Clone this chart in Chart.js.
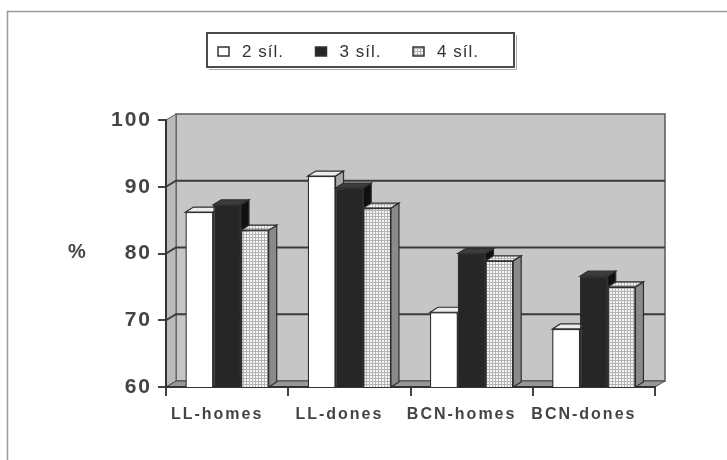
<!DOCTYPE html>
<html>
<head>
<meta charset="utf-8">
<script src="https://cdn.jsdelivr.net/npm/chart.js@4.4.1/dist/chart.umd.min.js"></script>
<style>
  html, body { margin: 0; padding: 0; background: #fff; }
  #chart { display: block; }
</style>
</head>
<body>
<canvas id="chart" width="727" height="460"></canvas>
<script>
// data
var categories = ['LL-homes', 'LL-dones', 'BCN-homes', 'BCN-dones'];
var seriesLabels = ['2 síl.', '3 síl.', '4 síl.'];
var sil2 = [86.2, 91.6, 71.2, 68.7];
var sil3 = [87.3, 89.8, 80.0, 76.6];
var sil4 = [83.5, 86.8, 78.9, 75.0];
var yMin = 60, yMax = 100, yStep = 10;
var yTitle = '%';

var FONT = "'Liberation Sans', Arial, sans-serif";
var canvas = document.getElementById('chart');
var ctx = canvas.getContext('2d');

// dotted fill for the 4 síl. series
function dotPattern() {
    var c = document.createElement('canvas');
    c.width = 3; c.height = 3;
    var g = c.getContext('2d');
    g.fillStyle = '#b4b4b4';
    g.fillRect(0, 0, 3, 3);
    g.fillStyle = '#f6f6f6';
    g.fillRect(1, 1, 2, 2);
    return ctx.createPattern(c, 'repeat');
}
var dots = dotPattern();

var fronts = ['#ffffff', '#262626', dots];
var sides  = ['#a8a8a8', '#101010', '#8a8a8a'];
var tops   = ['#ececec', '#3c3c3c', dots];

// wall depth and bar depth
var DX = 10, DY = -6;
var BX = 8, BY = -5;

function poly(c, pts, fill, stroke, lw) {
    c.beginPath();
    c.moveTo(pts[0][0], pts[0][1]);
    for (var i = 1; i < pts.length; i++) c.lineTo(pts[i][0], pts[i][1]);
    c.closePath();
    if (fill) { c.fillStyle = fill; c.fill(); }
    if (stroke) { c.strokeStyle = stroke; c.lineWidth = lw || 1; c.stroke(); }
}

var threeD = {
    id: 'threeD',
    beforeDraw: function (chart) {
        var c = chart.ctx, a = chart.chartArea, y = chart.scales.y;
        var L = a.left, R = a.right, T = a.top, B = a.bottom;
        c.save();
        // outer frame of the figure
        c.strokeStyle = '#9a9a9a';
        c.lineWidth = 1.5;
        c.beginPath();
        c.moveTo(7.5, 460); c.lineTo(7.5, 11.5); c.lineTo(727, 11.5);
        c.stroke();
        // back wall, side wall, floor
        poly(c, [[L + DX, T + DY], [R + DX, T + DY], [R + DX, B + DY], [L + DX, B + DY]], '#c6c6c6', '#5a5a5a', 1.5);
        poly(c, [[L, T], [L + DX, T + DY], [L + DX, B + DY], [L, B]], '#bababa', '#5a5a5a', 1);
        poly(c, [[L, B], [L + DX, B + DY], [R + DX, B + DY], [R, B]], '#979797', '#4a4a4a', 1);
        // gridlines on the walls
        c.strokeStyle = '#3a3a3a';
        c.lineWidth = 2;
        for (var v = yMin + yStep; v < yMax; v += yStep) {
            var py = y.getPixelForValue(v);
            c.beginPath();
            c.moveTo(L, py); c.lineTo(L + DX, py + DY); c.lineTo(R + DX, py + DY);
            c.stroke();
        }
        c.restore();
        c.letterSpacing = '2px';
    },
    beforeDatasetsDraw: function (chart) {
        chart.ctx.letterSpacing = '0px';
    },
    afterDatasetsDraw: function (chart) {
        var c = chart.ctx, a = chart.chartArea;
        c.save();
        // keep the bars above the floor line
        c.beginPath();
        c.rect(a.left, a.top - 20, a.right - a.left + 20, a.bottom - a.top + 20);
        c.clip();
        chart.data.datasets.forEach(function (ds, i) {
            var meta = chart.getDatasetMeta(i);
            meta.data.forEach(function (el) {
                var p = el.getProps(['x', 'y', 'base', 'width'], true);
                var l = p.x - p.width / 2, r = p.x + p.width / 2;
                var b = Math.min(p.base, a.bottom);
                poly(c, [[r, p.y], [r + BX, p.y + BY], [r + BX, b + BY], [r, b]], sides[i], '#2e2e2e', 1.2);
                poly(c, [[l, p.y], [l + BX, p.y + BY], [r + BX, p.y + BY], [r, p.y]], tops[i], '#2e2e2e', 1.2);
                el.draw(c);
            });
        });
        c.restore();
    },
    afterDraw: function (chart) {
        var c = chart.ctx;
        c.save();
        // y title
        c.fillStyle = '#444';
        c.font = 'bold 20px ' + FONT;
        c.textAlign = 'center';
        c.textBaseline = 'middle';
        c.fillText(yTitle, 77, 252);
        // legend box
        c.strokeStyle = '#4a4a4a';
        c.lineWidth = 2;
        c.strokeRect(207, 33, 307, 34);
        c.strokeStyle = '#aaa';
        c.lineWidth = 1;
        c.beginPath();
        c.moveTo(209, 69.5); c.lineTo(516.5, 69.5); c.lineTo(516.5, 35);
        c.stroke();
        c.font = '17px ' + FONT;
        c.letterSpacing = '1px';
        c.textAlign = 'left';
        c.textBaseline = 'alphabetic';
        chart.data.datasets.forEach(function (ds, i) {
            var bx = 218 + i * 97.5;
            c.fillStyle = fronts[i];
            c.fillRect(bx, 47, 11, 9);
            c.strokeStyle = '#333';
            c.lineWidth = 1.5;
            c.strokeRect(bx, 47, 11, 9);
            c.fillStyle = '#333';
            c.fillText(ds.label, bx + 24, 57);
        });
        c.restore();
    }
};

var datasets = [sil2, sil3, sil4].map(function (vals, i) {
    return {
        label: seriesLabels[i],
        data: vals,
        backgroundColor: fronts[i],
        borderColor: '#2e2e2e',
        borderWidth: 1.2,
        categoryPercentage: 0.68,
        barPercentage: 1
    };
});

new Chart(canvas, {
    type: 'bar',
    data: { labels: categories, datasets: datasets },
    plugins: [threeD],
    options: {
        responsive: false,
        devicePixelRatio: 1,
        animation: false,
        layout: { padding: { left: 0, right: 72, top: 120, bottom: 0 } },
        plugins: { legend: { display: false }, tooltip: { enabled: false } },
        scales: {
            x: {
                afterFit: function (s) { s.height = 73; },
                grid: { drawOnChartArea: false, offset: true, tickLength: 9, color: '#444', lineWidth: 2 },
                border: { color: '#333', width: 2 },
                ticks: { color: '#444', font: { family: FONT, size: 16, weight: 'bold' }, padding: 9, labelOffset: -10 }
            },
            y: {
                min: yMin,
                max: yMax,
                afterFit: function (s) { s.width = 166; },
                grid: { drawOnChartArea: false, tickLength: 8, color: '#444', lineWidth: 2 },
                border: { color: '#333', width: 2 },
                ticks: { stepSize: yStep, color: '#444', font: { family: FONT, size: 21, weight: 'bold' }, padding: 6 }
            }
        }
    }
});
</script>
</body>
</html>
